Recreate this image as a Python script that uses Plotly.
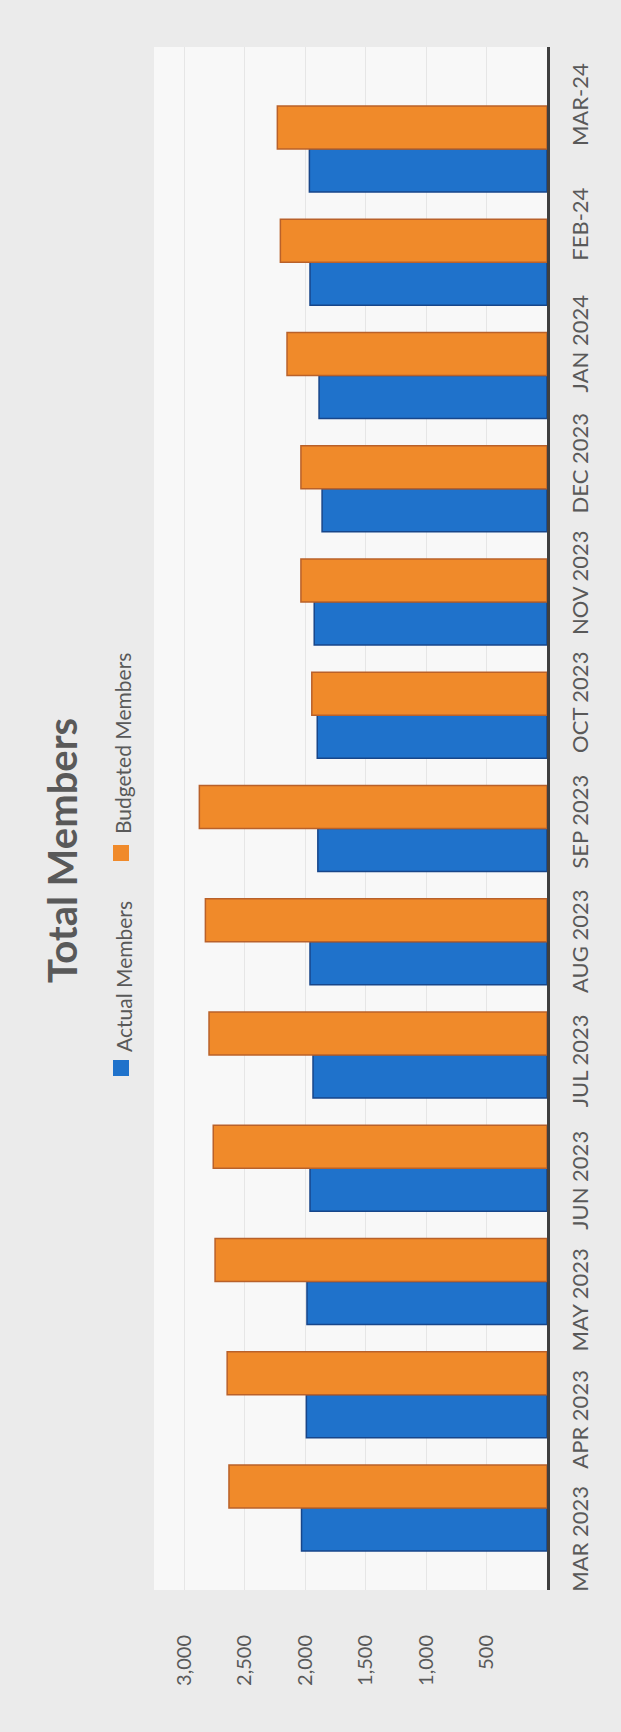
import plotly.graph_objects as go

months = ["MAR 2023", "APR 2023", "MAY 2023", "JUN 2023", "JUL 2023", "AUG 2023",
          "SEP 2023", "OCT 2023", "NOV 2023", "DEC 2023", "JAN 2024", "FEB-24", "MAR-24"]
actual_members = [2030, 1990, 1985, 1960, 1935, 1960, 1895, 1900, 1925, 1860, 1885, 1960, 1965]
budgeted_members = [2630, 2645, 2745, 2760, 2795, 2825, 2875, 1945, 2035, 2035, 2150, 2205, 2230]
value_ticks = [500, 1000, 1500, 2000, 2500, 3000]

W, H = 621, 1732
L, R, T, B = 154, 547, 47, 1590

def px_x(p):
    return (p - L) / (R - L)

def px_y(p):
    return (B - p) / (B - T)

blue = "#1f72cb"
orange = "#f08a2a"

fig = go.Figure()
# invisible helper trace so the category-label axis (front edge of the 3D floor) is drawn
fig.add_trace(go.Scatter(
    x=[0] * len(months), y=list(range(len(months))), mode="markers",
    marker=dict(opacity=0, size=1), hoverinfo="skip", showlegend=False, yaxis="y",
))
fig.add_trace(go.Bar(
    name="Actual Members", y=months, x=actual_members, orientation="h", yaxis="y2",
    marker=dict(color=blue, line=dict(color="#17468a", width=1.5)),
))
fig.add_trace(go.Bar(
    name="Budgeted Members", y=months, x=budgeted_members, orientation="h", yaxis="y2",
    marker=dict(color=orange, line=dict(color="#b9612a", width=1.5)),
))

font_fam = "Lato, 'Open Sans', sans-serif"
gray = "#595959"

fig.update_layout(
    width=W, height=H,
    margin=dict(l=L, r=W - R, t=T, b=H - B, pad=0),
    paper_bgcolor="#ebebeb",
    plot_bgcolor="#f8f8f8",
    barmode="group", bargap=0.24, bargroupgap=0,
    showlegend=False,
    font=dict(family=font_fam, color=gray),
    xaxis=dict(
        range=[3250, 0], tickvals=value_ticks, tickformat=",",
        tickangle=-90, tickfont=dict(size=20, color=gray),
        showgrid=True, gridcolor="#e6e6e6", gridwidth=1,
        zeroline=False, showline=False, ticks="",
        ticklabelstandoff=40,
    ),
    yaxis=dict(
        type="linear", range=[-0.40, 12.51], side="right",
        tickvals=list(range(len(months))), ticktext=months,
        tickangle=-90, tickfont=dict(size=22, color=gray),
        showline=True, linecolor="#3f3f3f", linewidth=3,
        showgrid=False, zeroline=False, ticks="", ticklabelstandoff=12,
    ),
    yaxis2=dict(
        type="category", categoryorder="array", categoryarray=months,
        range=[-0.724, 12.9], overlaying="y", side="right",
        showticklabels=False, showgrid=False, showline=False, ticks="",
    ),
)

annotations = [
    dict(text="<b>Total Members</b>", x=px_x(62), y=px_y(851), xref="paper", yref="paper",
         textangle=-90, showarrow=False, xanchor="center", yanchor="middle",
         font=dict(size=40, color=gray, family=font_fam)),
    dict(text="Actual Members", x=px_x(123), y=px_y(977), xref="paper", yref="paper",
         textangle=-90, showarrow=False, xanchor="center", yanchor="middle",
         font=dict(size=21, color=gray, family=font_fam)),
    dict(text="Budgeted Members", x=px_x(123), y=px_y(744), xref="paper", yref="paper",
         textangle=-90, showarrow=False, xanchor="center", yanchor="middle",
         font=dict(size=21, color=gray, family=font_fam)),
]
fig.update_layout(annotations=annotations)

shapes = []
for cy, col in [(1068, blue), (853, orange)]:
    shapes.append(dict(type="rect", xref="paper", yref="paper",
                       x0=px_x(113), x1=px_x(129), y0=px_y(cy + 8), y1=px_y(cy - 8),
                       fillcolor=col, line=dict(width=0)))
fig.update_layout(shapes=shapes)

fig.write_html("out.html")
